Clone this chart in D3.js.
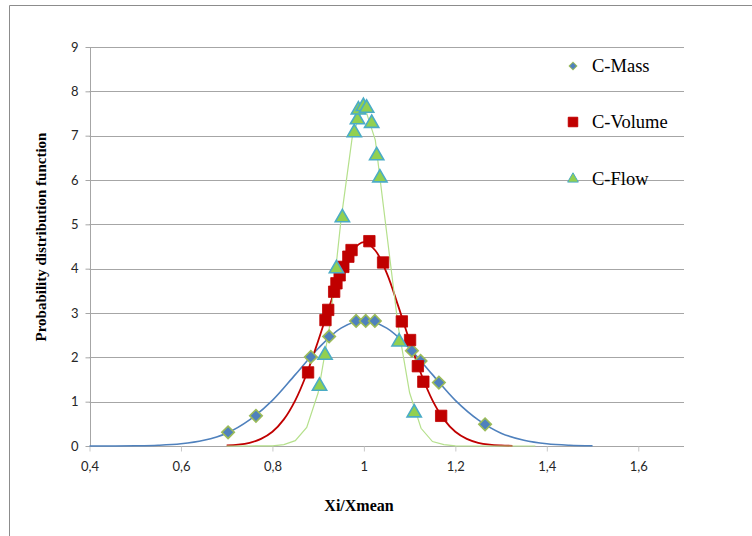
<!DOCTYPE html>
<html lang="en">
<head>
<meta charset="UTF-8">
<script src="https://d3js.org/d3.v7.min.js"></script>
<style>
  body { margin: 0; background: #fff; }
  svg { display: block; }
  .tick-label { font-family: Lato, "Open Sans", sans-serif; font-size: 13px; fill: #262626; }
  .title { font-family: "Liberation Serif", "Times New Roman", serif; font-weight: bold; fill: #000; }
  .legend-text { font-family: "Liberation Serif", "Times New Roman", serif; font-size: 18.5px; fill: #000; }
</style>
</head>
<body>
<svg id="chart"></svg>
<script>
// measured points
const massX = [0.703, 0.764, 0.884, 0.924, 0.983, 1.004, 1.024, 1.105, 1.124, 1.164, 1.265];
const massY = [0.31, 0.68, 2.01, 2.47, 2.82, 2.82, 2.82, 2.15, 1.92, 1.43, 0.49];

const volX = [0.878, 0.916, 0.922, 0.935, 0.940, 0.947, 0.955, 0.966, 0.973, 1.012, 1.042, 1.083, 1.101, 1.118, 1.130, 1.169];
const volY = [1.66, 2.84, 3.07, 3.48, 3.67, 3.85, 4.04, 4.27, 4.42, 4.62, 4.14, 2.81, 2.39, 1.80, 1.45, 0.68];

const flowX = [0.903, 0.915, 0.940, 0.953, 0.979, 0.986, 0.988, 0.999, 1.006, 1.017, 1.028, 1.035, 1.077, 1.110];
const flowY = [1.35, 2.05, 4.00, 5.15, 7.07, 7.36, 7.58, 7.66, 7.62, 7.28, 6.55, 6.05, 2.35, 0.75];

// fitted curves
const massFitX = [0.40, 0.45, 0.50, 0.55, 0.60, 0.65, 0.70, 0.75, 0.80, 0.85, 0.90, 0.95, 1.00, 1.05, 1.10, 1.15, 1.20, 1.25, 1.30, 1.35, 1.40, 1.45, 1.50];
const massFitY = [0.00, 0.001, 0.005, 0.017, 0.05, 0.13, 0.29, 0.59, 1.03, 1.61, 2.20, 2.66, 2.83, 2.66, 2.20, 1.61, 1.03, 0.59, 0.29, 0.13, 0.05, 0.017, 0.005];

const volFitX = [0.700, 0.725, 0.750, 0.775, 0.800, 0.825, 0.850, 0.875, 0.900, 0.925, 0.950, 0.975, 1.000, 1.025, 1.050, 1.075, 1.100, 1.125, 1.150, 1.175, 1.200, 1.225, 1.250, 1.275, 1.300, 1.325];
const volFitY = [0.012, 0.03, 0.072, 0.16, 0.32, 0.60, 1.03, 1.63, 2.37, 3.16, 3.90, 4.41, 4.60, 4.41, 3.90, 3.16, 2.37, 1.63, 1.03, 0.60, 0.32, 0.16, 0.072, 0.03, 0.012, 0.004];

const flowFitX = [0.700, 0.750, 0.800, 0.825, 0.850, 0.875, 0.900, 0.925, 0.950, 0.975, 1.000, 1.025, 1.050, 1.075, 1.100, 1.125, 1.150, 1.175, 1.200, 1.250, 1.300, 1.375];
const flowFitY = [0, 0, 0.005, 0.03, 0.12, 0.42, 1.20, 2.70, 5.10, 7.00, 7.70, 6.90, 4.80, 2.70, 1.20, 0.40, 0.10, 0.03, 0.005, 0, 0, 0];

const xTicks = [0.4, 0.6, 0.8, 1.0, 1.2, 1.4, 1.6];
const yTicks = [0, 1, 2, 3, 4, 5, 6, 7, 8, 9];
const seriesNames = ["C-Mass", "C-Volume", "C-Flow"];

const W = 752, H = 536;
const svg = d3.select("#chart").attr("width", W).attr("height", H);

// outer frame (only left and top edges fall inside the picture)
svg.append("path")
  .attr("d", "M9.5," + H + "V5.5H" + W)
  .attr("fill", "none")
  .attr("stroke", "#8c8c8c")
  .attr("stroke-width", 1);

const x = d3.scaleLinear().domain([0.4, 1.7]).range([89.5, 684]);
const y = d3.scaleLinear().domain([0, 9]).range([446, 47]);

// horizontal gridlines
svg.append("g")
  .selectAll("line")
  .data(yTicks.filter(d => d > 0))
  .join("line")
  .attr("x1", x(0.4)).attr("x2", x(1.7))
  .attr("y1", d => Math.round(y(d)) + 0.5).attr("y2", d => Math.round(y(d)) + 0.5)
  .attr("stroke", "#a6a6a6").attr("stroke-width", 1);

// y axis
const yAxis = svg.append("g").attr("transform", "translate(" + (Math.round(x(0.4)) + 0.5) + ",0)")
  .call(d3.axisLeft(y).tickValues(yTicks).tickSize(5).tickFormat(d3.format("d")));
yAxis.select(".domain").attr("stroke", "#a6a6a6").attr("d", "M0," + y(9) + "V" + y(0));
yAxis.selectAll(".tick line").attr("stroke", "#a6a6a6");
yAxis.selectAll(".tick text").attr("class", "tick-label").attr("x", -12);

// x axis
const xAxis = svg.append("g").attr("transform", "translate(0," + (Math.round(y(0)) + 0.5) + ")")
  .call(d3.axisBottom(x).tickValues(xTicks).tickSize(5)
    .tickFormat(d => d3.format(".1f")(d).replace(".0", "").replace(".", ",")));
xAxis.select(".domain").attr("stroke", "#a6a6a6").attr("d", "M" + x(0.4) + ",0H" + x(1.7));
xAxis.selectAll(".tick line").attr("stroke", "#c8c8c8");
xAxis.selectAll(".tick text").attr("class", "tick-label").attr("y", 15);

// fitted lines
function pts(xs, ys) { return xs.map((v, i) => [v, ys[i]]); }
const smooth = d3.line().x(d => x(d[0])).y(d => y(d[1])).curve(d3.curveCatmullRom.alpha(0.5));
const straight = d3.line().x(d => x(d[0])).y(d => y(d[1]));

svg.append("path").attr("d", smooth(pts(massFitX, massFitY)))
  .attr("fill", "none").attr("stroke", "#4f81bd").attr("stroke-width", 1.6);
svg.append("path").attr("d", smooth(pts(volFitX, volFitY)))
  .attr("fill", "none").attr("stroke", "#c00000").attr("stroke-width", 1.8);
svg.append("path").attr("d", straight(pts(flowFitX, flowFitY)))
  .attr("fill", "none").attr("stroke", "#b5e08c").attr("stroke-width", 1.2);

// markers
const diamond = d3.symbol().type(d3.symbolSquare).size(78);
const square = d3.symbol().type(d3.symbolSquare).size(130);
const triangle = d3.symbol().type(d3.symbolTriangle).size(88);

svg.append("g").selectAll("path")
  .data(pts(massX, massY)).join("path")
  .attr("d", diamond)
  .attr("transform", d => "translate(" + x(d[0]) + "," + y(d[1]) + ") rotate(45)")
  .attr("fill", "#4f81bd").attr("stroke", "#9bbb59").attr("stroke-width", 1.6);

svg.append("g").selectAll("path")
  .data(pts(volX, volY)).join("path")
  .attr("d", square)
  .attr("transform", d => "translate(" + x(d[0]) + "," + y(d[1]) + ")")
  .attr("fill", "#c00000").attr("stroke", "#c00000").attr("stroke-width", 0.8);

svg.append("g").selectAll("path")
  .data(pts(flowX, flowY)).join("path")
  .attr("d", triangle)
  .attr("transform", d => "translate(" + x(d[0]) + "," + y(d[1]) + ")")
  .attr("fill", "#92d050").attr("stroke", "#4bacc6").attr("stroke-width", 1.6);

// legend
const legendY = [66, 122, 179];
const legendSym = [
  { sym: d3.symbol().type(d3.symbolSquare).size(30), rot: 45, fill: "#4f81bd", stroke: "#9bbb59" },
  { sym: d3.symbol().type(d3.symbolSquare).size(90), rot: 0, fill: "#c00000", stroke: "#c00000" },
  { sym: d3.symbol().type(d3.symbolTriangle).size(50), rot: 0, fill: "#92d050", stroke: "#4bacc6" }
];
const legend = svg.append("g");
seriesNames.forEach((name, i) => {
  const s = legendSym[i];
  legend.append("path")
    .attr("d", s.sym)
    .attr("transform", "translate(573," + legendY[i] + ") rotate(" + s.rot + ")")
    .attr("fill", s.fill).attr("stroke", s.stroke).attr("stroke-width", 1);
  legend.append("text")
    .attr("class", "legend-text")
    .attr("x", 592).attr("y", legendY[i] + 6)
    .text(name);
});

// axis titles
svg.append("text")
  .attr("class", "title")
  .attr("font-size", 16)
  .attr("x", 359).attr("y", 511)
  .attr("text-anchor", "middle")
  .text("Xi/Xmean");

svg.append("text")
  .attr("class", "title")
  .attr("font-size", 15)
  .attr("transform", "translate(46,237) rotate(-90)")
  .attr("text-anchor", "middle")
  .text("Probability distribution function");
</script>
</body>
</html>
